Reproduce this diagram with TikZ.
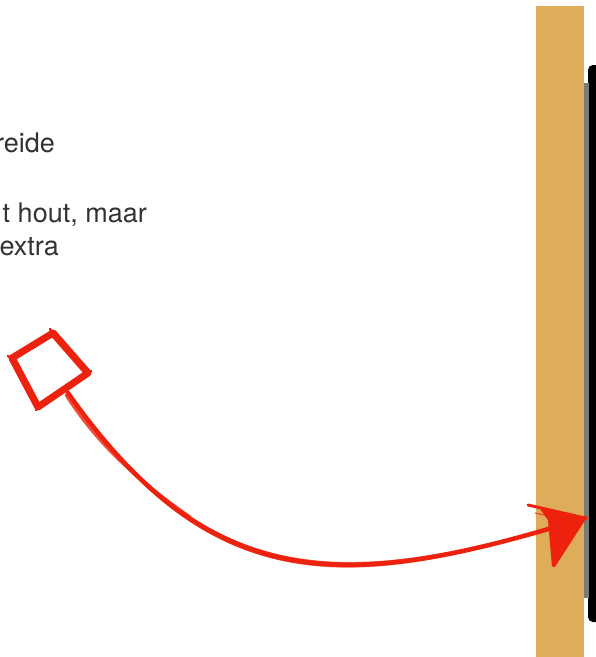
\documentclass[tikz,border=0pt]{standalone}
\usepackage{fontspec}
\setmainfont{TeX Gyre Heros}
\definecolor{wood}{HTML}{DFAC5A}
\definecolor{strip}{HTML}{7C7A78}
\definecolor{sketchred}{RGB}{236,34,14}
\definecolor{txt}{HTML}{333333}
\tikzset{
  redline/.style={draw=sketchred, line cap=round, line join=round},
  label/.style={font=\fontsize{27}{31}\selectfont, text=txt, inner sep=0pt, anchor=base east}
}
\begin{document}
\begin{tikzpicture}[x=1pt,y=-1pt]
\useasboundingbox (0,0) rectangle (596,657);
\clip (0,0) rectangle (596,657);
% text fragments
\node[label] (t1) at (55,152) {reide};
\node[label] (t2) at (147,222) {t hout, maar};
\node[label] (t3) at (59,255) {extra};
% wood, strip, panel
\fill[wood] (536,6) rectangle (584,660);
\fill[black, rounded corners=5pt] (588,65) rectangle (610,622);
\fill[strip] (584,83) rectangle (589,598);
% named points
\coordinate (sq) at (68,393);
\coordinate (tip) at (585,518);
% sketchy square
\foreach \dx/\dy/\w/\o in {0/0/7/1, 1.8/-1.5/2.5/0.7, -1.8/1.5/2.5/0.7, 1/2.2/1.5/0.5} {
  \draw[redline, line width=\w, opacity=\o, shift={(\dx,\dy)}]
    (53,333) -- (88,373) -- (38,407) -- (12,358) -- cycle;
}
\draw[redline, line width=2.5] (50,329) -- (56,337);
\draw[redline, line width=2.5] (91,371) -- (84,377);
\draw[redline, line width=2.5] (8,356) -- (15,361);
\draw[redline, line width=2.5] (36,410) -- (41,403);
% sketchy curve
\foreach \dx/\dy/\w/\o in {0/0/4.5/1, 1.8/-1.8/2/0.8, -1.8/1.8/2/0.8, 0.8/3.2/1.2/0.55, -0.8/-3.2/1.2/0.55} {
  \draw[redline, line width=\w, opacity=\o, shift={(\dx,\dy)}]
    (sq) .. controls (212,597) and (346,592) .. (tip);
}
\draw[redline, line width=3, opacity=0.8] (66,395) .. controls (95,440) and (130,475) .. (190,517);
% arrow head
\fill[sketchred] (tip) -- (540,509) -- (548,520) -- (552,567) -- cycle;
\draw[redline, line width=3] (528,505) -- (tip);
\draw[redline, line width=2.5] (tip) -- (554,566);
\draw[redline, line width=1.2, opacity=0.7] (535,513) -- (580,523);
\end{tikzpicture}
\end{document}
